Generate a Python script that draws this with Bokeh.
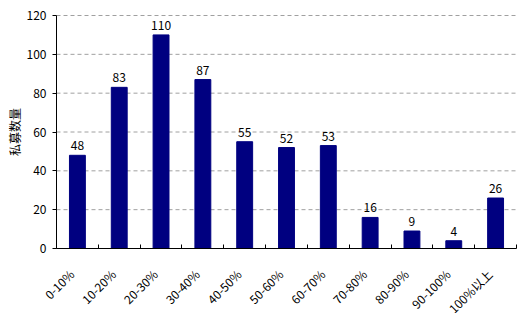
from math import pi
from bokeh.plotting import figure
from bokeh.models import FixedTicker, ColumnDataSource, Range1d
from bokeh.core.properties import value
from bokeh.embed import file_html
from bokeh.resources import INLINE

categories = ["0-10%", "10-20%", "20-30%", "30-40%", "40-50%", "50-60%",
              "60-70%", "70-80%", "80-90%", "90-100%", "100%以上"]
counts = [48, 83, 110, 87, 55, 52, 53, 16, 9, 4, 26]
y_ticks = [0, 20, 40, 60, 80, 100, 120]
y_title = "私募数量"

FONT = "Noto Sans CJK SC"
W, H = 526, 313
n = len(categories)
centers = [i + 0.5 for i in range(n)]
boundaries = list(range(n + 1))

# plot box inside the canvas (pixels): left, right, top, bottom
L, R, T, B = 56, 516, 15, 248
TITLE_X = 14                # centre of the vertical value-axis title (px)
ymax = y_ticks[-1]
ypx = ymax / (B - T)        # data units per pixel (y)
xpx = n / (R - L)           # data units per pixel (x)
LABEL_SHIFT_PX = 6          # rotated category labels sit a little left of centre
label_pos = [round(c - LABEL_SHIFT_PX * xpx, 4) for c in centers]

p = figure(width=W, height=H, output_backend="svg", toolbar_location=None,
           x_range=Range1d(-L * xpx, n + (W - R) * xpx),
           y_range=Range1d(-(H - B) * ypx, ymax + T * ypx),
           min_border=0)
p.outline_line_color = None
p.background_fill_color = "white"
p.border_fill_color = "white"

# dashed gridlines across the plot box only
gy = y_ticks[1:]
p.segment(x0=[0] * len(gy), y0=gy, x1=[n] * len(gy), y1=gy,
          line_color="#a0a0a0", line_dash="4 3", line_width=1)
p.xgrid.grid_line_color = None
p.ygrid.grid_line_color = None

src = ColumnDataSource(dict(x=centers, top=counts, lab=[str(c) for c in counts]))
p.vbar(x="x", top="top", width=0.38, bottom=0, source=src,
       fill_color="#000080", line_color="#000080")
p.text(x="x", y="top", text="lab", source=src, y_offset=-5,
       text_align="center", text_baseline="bottom",
       text_font=value(FONT), text_font_size="12px", text_color="black")

# category axis at y = 0
xa = p.xaxis[0]
xa.fixed_location = 0
xa.bounds = (0, n)
xa.ticker = FixedTicker(ticks=label_pos, minor_ticks=boundaries)
xa.major_label_overrides = {c: categories[i] for i, c in enumerate(label_pos)}
xa.major_label_orientation = pi / 4
xa.major_tick_line_color = None
xa.minor_tick_in = 4
xa.minor_tick_out = 0
xa.minor_tick_line_color = "black"
xa.axis_line_color = "black"
xa.major_label_text_font = FONT
xa.major_label_text_font_size = "12px"
xa.major_label_text_color = "black"
xa.major_label_standoff = 17

# value axis at x = 0
ya = p.yaxis[0]
ya.fixed_location = 0
ya.bounds = (0, ymax)
ya.ticker = FixedTicker(ticks=y_ticks)
ya.minor_tick_line_color = None
ya.major_tick_in = 0
ya.major_tick_out = 4
ya.axis_line_color = "black"
ya.major_label_text_font = FONT
ya.major_label_text_font_size = "12px"
ya.major_label_text_color = "black"
ya.major_label_standoff = 6

# value-axis title, vertical, centred on the axis
p.text(x=[(TITLE_X - L) * xpx], y=[ymax / 2], text=[y_title], angle=pi / 2,
       text_align="center", text_baseline="middle",
       text_font=value(FONT), text_font_size="12px", text_color="black")

open("out.html", "w").write(file_html(p, INLINE))
